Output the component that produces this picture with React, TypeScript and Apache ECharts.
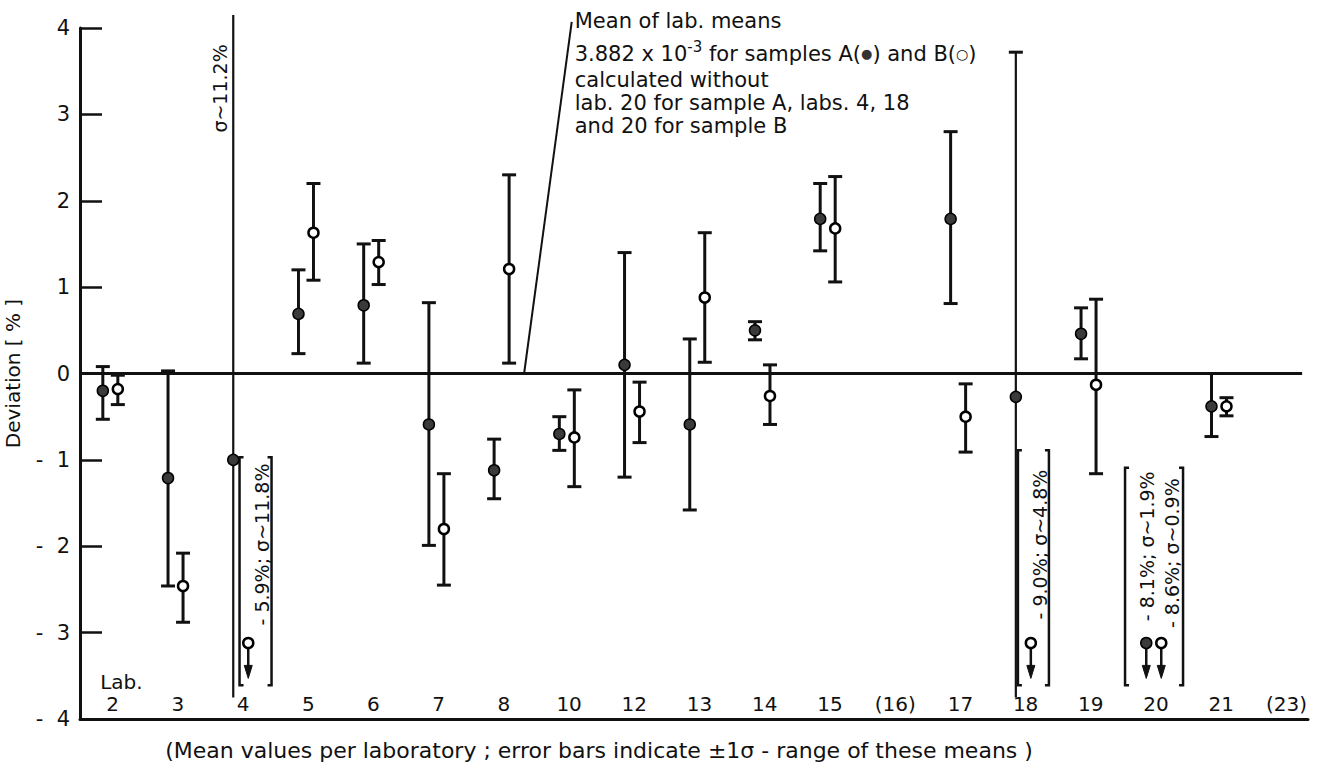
import React, { useEffect, useRef } from 'react';
import * as echarts from 'echarts';

// Laboratories along the abscissa (brackets: no result reported)
const LABS = ['2', '3', '4', '5', '6', '7', '8', '10', '12', '13', '14', '15', '(16)', '17', '18', '19', '20', '21', '(23)'];

// Sample A (filled circles): mean deviation and ±1σ range, %
const A_MEAN = [-0.2, -1.21, -1.0, 0.69, 0.79, -0.59, -1.12, -0.7, 0.1, -0.59, 0.5, 1.79, null, 1.79, -0.27, 0.46, -8.1, -0.38, null];
const A_LOW = [-0.53, -2.46, -12.2, 0.23, 0.12, -1.99, -1.45, -0.89, -1.2, -1.58, 0.39, 1.42, null, 0.81, -4.26, 0.17, -10.0, -0.73, null];
const A_HIGH = [0.08, 0.03, 10.2, 1.2, 1.5, 0.82, -0.76, -0.5, 1.4, 0.4, 0.6, 2.2, null, 2.8, 3.72, 0.76, -6.2, 0.0, null];

// Sample B (open circles): mean deviation and ±1σ range, %
const B_MEAN = [-0.18, -2.46, -5.9, 1.63, 1.29, -1.8, 1.21, -0.74, -0.44, 0.88, -0.26, 1.68, null, -0.5, -9.0, -0.13, -8.6, -0.38, null];
const B_LOW = [-0.36, -2.88, -17.7, 1.08, 1.03, -2.45, 0.12, -1.31, -0.8, 0.13, -0.59, 1.06, null, -0.91, -13.8, -1.16, -9.5, -0.49, null];
const B_HIGH = [-0.02, -2.08, 5.9, 2.2, 1.54, -1.16, 2.3, -0.19, -0.1, 1.63, 0.1, 2.28, null, -0.12, -4.2, 0.86, -7.7, -0.28, null];

const Y_TICKS = [-4, -3, -2, -1, 0, 1, 2, 3, 4];

const MEAN_NOTE = [
  'Mean of lab. means',
  '{n|3.882 x 10}{s|-3}{n| for samples A(}{d|●}{n|) and B(}{o|○}{n|)}',
  'calculated without',
  'lab. 20 for sample A, labs. 4, 18',
  'and 20 for sample B',
];
const CAPTION = '(Mean values per laboratory ; error bars indicate ±1σ - range of these means )';

// ---- layout ----
const FONT = '"DejaVu Sans", sans-serif';
const INK = '#111';
const FS = 19;
const FS_PROSE = 21;
const X_MIN = -0.5;
const X_MAX = 18.33;
const ZERO_END = 18.24;
const CLIP_LO = -3.75;
const CLIP_HI = 4.15;
const OFFSCALE_Y = -3.12;
const ARROW_TIP_Y = -3.53;
const LABEL_Y = -3.83;
const A_SHIFT = -0.15;
const B_SHIFT = 0.08;
const CAP = 7;

// bracket boxes around off-scale results: pixel offsets from the lab position, y in data units
const NOTE_LAYOUT: Record<number, { left: number; right: number; top: number; bottom: number; textX: number[]; textY: number[] }> = {
  2: { left: -3.5, right: 28.5, top: -0.97, bottom: -3.61, textX: [18.5], textY: [-1.98] },
  14: { left: -7.7, right: 23.3, top: -0.89, bottom: -3.61, textX: [14.3], textY: [-1.98] },
  16: { left: -31, right: 27, top: -1.09, bottom: -3.61, textX: [-9, 16], textY: [-2.0, -2.08] },
};

const onScale = (v: number | null) => v != null && v >= -4 && v <= 4;
const fmt1 = (v: number) => (Math.round(v * 10) / 10).toFixed(1);

function errorData(mean: (number | null)[], lo: (number | null)[], hi: (number | null)[], shift: number) {
  const out: number[][] = [];
  mean.forEach((m, i) => {
    if (onScale(m) && lo[i] != null && hi[i] != null) out.push([i + shift, lo[i] as number, hi[i] as number]);
  });
  return out;
}
function markerData(mean: (number | null)[], shift: number) {
  const out: number[][] = [];
  mean.forEach((m, i) => {
    if (m != null) out.push([i + shift, onScale(m) ? m : OFFSCALE_Y]);
  });
  return out;
}
function arrowData(mean: (number | null)[], shift: number) {
  const out: number[][] = [];
  mean.forEach((m, i) => {
    if (m != null && !onScale(m)) out.push([i + shift]);
  });
  return out;
}

const renderErrorBar = (_p: any, api: any) => {
  const x = api.value(0);
  const lo = api.value(1);
  const hi = api.value(2);
  const clipped = hi > CLIP_HI || lo < CLIP_LO;
  const top = api.coord([x, Math.min(hi, CLIP_HI)]);
  const bot = api.coord([x, Math.max(lo, CLIP_LO)]);
  const style = { stroke: INK, lineWidth: clipped ? 2.2 : 3 };
  const children: any[] = [
    { type: 'line', shape: { x1: top[0], y1: top[1], x2: bot[0], y2: bot[1] }, style },
  ];
  if (hi <= CLIP_HI) children.push({ type: 'line', shape: { x1: top[0] - CAP, y1: top[1], x2: top[0] + CAP, y2: top[1] }, style: { stroke: INK, lineWidth: 3 } });
  if (lo >= CLIP_LO) children.push({ type: 'line', shape: { x1: bot[0] - CAP, y1: bot[1], x2: bot[0] + CAP, y2: bot[1] }, style: { stroke: INK, lineWidth: 3 } });
  return { type: 'group', children };
};

const renderArrow = (_p: any, api: any) => {
  const x = api.value(0);
  const a = api.coord([x, OFFSCALE_Y]);
  const t = api.coord([x, ARROW_TIP_Y]);
  return {
    type: 'group',
    children: [
      { type: 'line', shape: { x1: a[0], y1: a[1], x2: t[0], y2: t[1] - 6 }, style: { stroke: INK, lineWidth: 2.5 } },
      { type: 'polygon', shape: { points: [[t[0] - 4, t[1] - 13], [t[0] + 4, t[1] - 13], [t[0], t[1]]] }, style: { fill: INK, stroke: INK, lineWidth: 1 } },
    ],
  };
};

const renderLabLabel = (_p: any, api: any) => {
  const i = api.value(0);
  const p = api.coord([i, LABEL_Y]);
  return {
    type: 'text',
    x: p[0],
    y: p[1],
    style: { text: LABS[i], fill: INK, fontSize: 20, fontFamily: FONT, align: 'center', verticalAlign: 'middle' },
  };
};

function buildOption(): any {
  return {
    animation: false,
    backgroundColor: '#fff',
    grid: { left: 80, right: 18, top: 28, bottom: 52, containLabel: false, outerBoundsMode: 'none' },
    xAxis: {
      type: 'value',
      min: X_MIN,
      max: X_MAX,
      axisLine: { show: true, onZero: false, lineStyle: { color: INK, width: 3 } },
      axisTick: { show: false },
      axisLabel: { show: false },
      splitLine: { show: false },
    },
    yAxis: {
      type: 'value',
      min: Y_TICKS[0],
      max: Y_TICKS[Y_TICKS.length - 1],
      interval: 1,
      axisLine: { show: true, onZero: false, lineStyle: { color: INK, width: 3 } },
      axisTick: { show: true, inside: true, length: 22, lineStyle: { color: INK, width: 2.5 } },
      splitLine: { show: false },
      axisLabel: {
        color: INK,
        fontSize: 21,
        fontFamily: FONT,
        margin: 10,
        formatter: (v: number) => (v < 0 ? `-  ${-v}` : `${v}`),
      },
      name: 'Deviation [ % ]',
      nameLocation: 'middle',
      nameGap: 57,
      nameTextStyle: { color: INK, fontSize: 20, fontFamily: FONT },
    },
    series: [
      {
        type: 'line',
        data: [[X_MIN, 0], [ZERO_END, 0]],
        showSymbol: false,
        lineStyle: { color: INK, width: 3 },
        silent: true,
        z: 1,
      },
      {
        type: 'custom',
        renderItem: renderLabLabel,
        data: LABS.map((_, i) => [i]),
        silent: true,
        z: 1,
      },
      { type: 'custom', renderItem: renderErrorBar, data: errorData(A_MEAN, A_LOW, A_HIGH, A_SHIFT), silent: true, z: 2, clip: false },
      { type: 'custom', renderItem: renderErrorBar, data: errorData(B_MEAN, B_LOW, B_HIGH, B_SHIFT), silent: true, z: 2, clip: false },
      { type: 'custom', renderItem: renderArrow, data: arrowData(A_MEAN, A_SHIFT), silent: true, z: 2 },
      { type: 'custom', renderItem: renderArrow, data: arrowData(B_MEAN, B_SHIFT), silent: true, z: 2 },
      {
        name: 'A',
        type: 'scatter',
        data: markerData(A_MEAN, A_SHIFT),
        symbol: 'circle',
        symbolSize: 11,
        itemStyle: { color: '#3a3a3a', borderColor: '#000', borderWidth: 1.5, opacity: 1 },
        silent: true,
        z: 3,
      },
      {
        name: 'B',
        type: 'scatter',
        data: markerData(B_MEAN, B_SHIFT),
        symbol: 'circle',
        symbolSize: 10,
        itemStyle: { color: '#fff', borderColor: '#000', borderWidth: 2.5, opacity: 1 },
        silent: true,
        z: 3,
      },
    ],
  };
}

function buildAnnotations(chart: any): any[] {
  const px = (x: number, y: number) => chart.convertToPixel({ gridIndex: 0 }, [x, y]) as number[];
  const txt = (x: number, y: number, s: string, extra: any = {}, rotation = 0) => ({
    type: 'text',
    x,
    y,
    rotation,
    silent: true,
    style: { text: s, fill: INK, fontSize: FS, fontFamily: FONT, align: 'left', verticalAlign: 'middle', ...extra },
  });
  const g: any[] = [];

  // leader line and note on the mean of lab means
  const lb = px(6.31, 0);
  const lt = px(7.04, 4.07);
  g.push({ type: 'line', silent: true, shape: { x1: lb[0], y1: lb[1], x2: lt[0], y2: lt[1] }, style: { stroke: INK, lineWidth: 2 } });
  const lineOffsets = [-1, 32, 58, 81, 104];
  MEAN_NOTE.forEach((s, k) => {
    const extra: any =
      k === 1
        ? {
            rich: {
              n: { fontSize: FS_PROSE, fontFamily: FONT, fill: INK, lineHeight: 28, verticalAlign: 'middle' },
              s: { fontSize: 15, fontFamily: FONT, fill: INK, lineHeight: 10, verticalAlign: 'top' },
              d: { fontSize: 13, fontFamily: FONT, fill: '#333', lineHeight: 28, verticalAlign: 'middle' },
              o: { fontSize: 14, fontFamily: FONT, fill: INK, lineHeight: 28, verticalAlign: 'middle' },
            },
          }
        : { fontSize: FS_PROSE };
    g.push(txt(lt[0] + 3, lt[1] + lineOffsets[k], s, extra));
  });

  // σ of lab 4, sample A (error bar runs off the scale)
  const i4 = 2;
  const sigma4 = ((A_HIGH[i4] as number) - (A_LOW[i4] as number)) / 2;
  const s4 = px(i4, 3.3);
  g.push(txt(s4[0] - 23.5, s4[1], `σ~${fmt1(sigma4)}%`, { align: 'center' }, Math.PI / 2));

  // bracketed notes for results below the scale
  Object.keys(NOTE_LAYOUT).forEach((key) => {
    const i = Number(key);
    const L = NOTE_LAYOUT[i];
    const c = px(i, 0)[0];
    const yt = px(i, L.top)[1];
    const yb = px(i, L.bottom)[1];
    const xl = c + L.left;
    const xr = c + L.right;
    g.push({ type: 'polyline', silent: true, shape: { points: [[xl + 4, yt], [xl, yt], [xl, yb], [xl + 4, yb]] }, style: { stroke: INK, lineWidth: 2.5, fill: null } });
    g.push({ type: 'polyline', silent: true, shape: { points: [[xr - 4, yt], [xr, yt], [xr, yb], [xr - 4, yb]] }, style: { stroke: INK, lineWidth: 2.5, fill: null } });
    const notes: string[] = [];
    const addNote = (mean: (number | null)[], lo: (number | null)[], hi: (number | null)[]) => {
      const m = mean[i];
      if (m != null && !onScale(m)) {
        const sg = ((hi[i] as number) - (lo[i] as number)) / 2;
        notes.push(`- ${fmt1(-m)}%; σ~${fmt1(sg)}%`);
      }
    };
    addNote(A_MEAN, A_LOW, A_HIGH);
    addNote(B_MEAN, B_LOW, B_HIGH);
    notes.forEach((s, k) => {
      const ty = px(i, L.textY[k])[1];
      g.push(txt(c + L.textX[k], ty, s, { align: 'center' }, Math.PI / 2));
    });
  });

  // "Lab." heading over the lab numbers
  const lab = px(-0.19, -3.57);
  g.push(txt(lab[0], lab[1], 'Lab.', { fontSize: 20 }));

  // caption below the axis
  g.push(txt(599, 750, CAPTION, { align: 'center', fontSize: 22 }));
  return g;
}

export default function App() {
  const ref = useRef<HTMLDivElement>(null);
  useEffect(() => {
    const chart = echarts.init(ref.current as HTMLDivElement, null, { renderer: 'svg' });
    chart.setOption(buildOption());
    chart.setOption({ graphic: buildAnnotations(chart) });
    return () => chart.dispose();
  }, []);
  return <div ref={ref} style={{ position: 'absolute', left: 0, top: 0, width: 1326, height: 771, background: '#fff' }} />;
}
